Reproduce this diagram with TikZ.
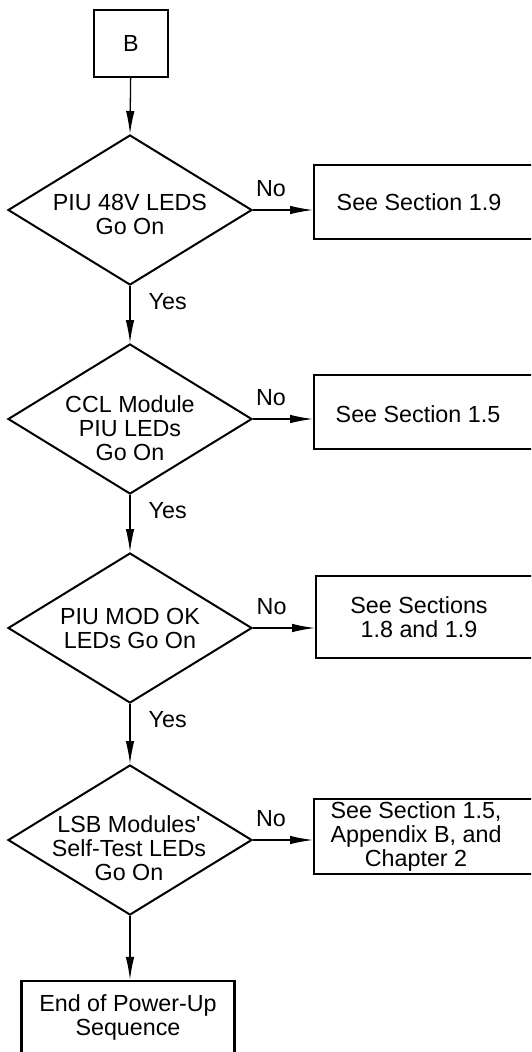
\documentclass[tikz,border=0pt]{standalone}
\usepackage{fontspec}
\setmainfont{Liberation Sans}
\usetikzlibrary{shapes.geometric,arrows.meta}

\tikzset{
  decision/.style={draw, diamond, line width=2pt, minimum width=244pt, minimum height=150pt, inner sep=0pt},
  sidebox/.style={draw, line width=2.2pt, anchor=west, minimum width=240pt, inner sep=0pt},
  endbox/.style={draw, line width=2.2pt, align=center, inner sep=0pt},
  flow/.style={line width=1.3pt, -{Latex[length=23pt,width=8.5pt]}},
  txt/.style={align=center, inner sep=0pt},
  nolbl/.style={inner sep=0pt, pos=0.3, anchor=south, yshift=13pt},
  yeslbl/.style={inner sep=0pt, pos=0, anchor=base west, xshift=18pt, yshift=-23pt}
}

\begin{document}
\begin{tikzpicture}[x=1pt, y=-1pt, font=\fontsize{23.3}{24}\selectfont]
\path[use as bounding box, clip] (0,0) rectangle (531,1052);

\node[endbox, minimum width=74pt, minimum height=67pt] (start) at (131,43.5) {B};

% decisions
\node[decision] (d1) at (130,210) {};
\node[txt] (t1) at (130,214) {PIU 48V LEDS\\Go On};
\node[decision] (d2) at (130,419) {};
\node[txt] (t2) at (130,428) {CCL Module\\PIU LEDs\\Go On};
\node[decision] (d3) at (130,628) {};
\node[txt] (t3) at (130,628) {PIU MOD OK\\LEDs Go On};
\node[decision] (d4) at (130,840) {};
\node[txt] (t4) at (129,848) {LSB Modules\textquotesingle\\Self-Test LEDs\\Go On};

% side boxes
\node[sidebox, minimum height=74pt] (s1) at (313,202) {};
\node[txt] (u1) at (419,202) {See Section 1.9};
\node[sidebox, minimum height=74pt] (s2) at (313,412) {};
\node[txt] (u2) at (418,414) {See Section 1.5};
\node[sidebox, minimum height=82pt] (s3) at (315,617) {};
\node[txt] (u3) at (419,617) {See Sections\\1.8 and 1.9};
\node[sidebox, minimum height=75pt] (s4) at (313,836.5) {};
\node[txt] (u4) at (416,836) {See Section 1.5,\\Appendix B, and\\Chapter 2};

\node[endbox, minimum width=213pt, minimum height=72pt] (stop) at (128,1017) {End of Power-Up\\Sequence};

% connectors
\draw[flow] (start) -- (d1.north);
\draw[flow] (d1.east) -- node[nolbl] (n1) {No} (d1.east -| s1.west);
\draw[flow] (d2.east) -- node[nolbl] (n2) {No} (d2.east -| s2.west);
\draw[flow] (d3.east) -- node[nolbl] (n3) {No} (d3.east -| s3.west);
\draw[flow] (d4.east) -- node[nolbl] (n4) {No} (d4.east -| s4.west);
\draw[flow] (d1.south) -- node[yeslbl] (y1) {Yes} (d2.north);
\draw[flow] (d2.south) -- node[yeslbl] (y2) {Yes} (d3.north);
\draw[flow] (d3.south) -- node[yeslbl] (y3) {Yes} (d4.north);
\draw[flow] (d4.south) -- (d4.south |- stop.north);
\end{tikzpicture}
\end{document}
